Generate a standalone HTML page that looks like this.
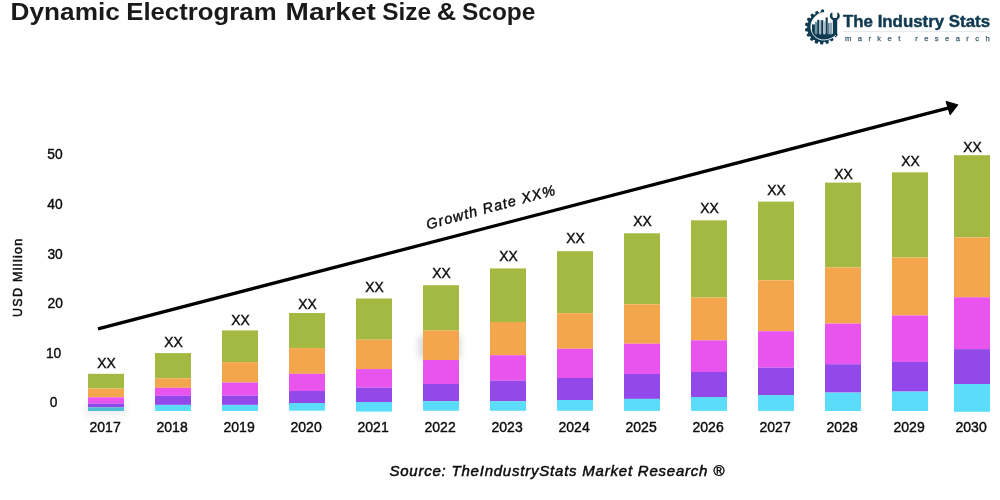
<!DOCTYPE html>
<html><head><meta charset="utf-8">
<style>
html,body{margin:0;padding:0;background:#fff;}
body{width:1000px;height:500px;overflow:hidden;font-family:"Liberation Sans",sans-serif;}
svg{display:block;position:absolute;left:0;top:0;will-change:transform;}
text{font-family:"Liberation Sans",sans-serif;fill:#0c0c0c;}
.mid{text-anchor:middle;stroke:#0c0c0c;stroke-width:0.42px;}
.title{font-size:23px;font-weight:bold;fill:#1a1a1a;}
.src{font-size:15px;font-style:italic;letter-spacing:0.78px;stroke:#0c0c0c;stroke-width:0.5px;}
.gr{font-size:14.5px;font-style:italic;letter-spacing:1.08px;stroke:#0c0c0c;stroke-width:0.4px;}
.ax{font-size:12.5px;letter-spacing:1.3px;stroke:#111;stroke-width:0.5px;}
.logo1{font-size:16px;font-weight:bold;fill:#103a51;stroke:#103a51;stroke-width:0.45px;}
.logo2{font-size:7.6px;fill:#3f5e6f;stroke:#3f5e6f;stroke-width:0.25px;letter-spacing:6.42px;}
</style></head><body>
<svg width="1000" height="500" viewBox="0 0 1000 500">
<text x="10.6" y="20.3" class="title" textLength="109.2" lengthAdjust="spacingAndGlyphs">Dynamic</text>
<text x="126.2" y="20.3" class="title" textLength="150.4" lengthAdjust="spacingAndGlyphs">Electrogram</text>
<text x="285.6" y="20.3" class="title" textLength="90.2" lengthAdjust="spacingAndGlyphs">Market</text>
<text x="382.2" y="20.3" class="title" textLength="48.8" lengthAdjust="spacingAndGlyphs">Size</text>
<text x="436.8" y="20.3" class="title" textLength="19.4" lengthAdjust="spacingAndGlyphs">&amp;</text>
<text x="462.0" y="20.3" class="title" textLength="73.4" lengthAdjust="spacingAndGlyphs">Scope</text>
<defs><filter id="bl" x="-50%" y="-50%" width="200%" height="200%"><feGaussianBlur stdDeviation="3"/></filter></defs>
<rect x="418.5" y="336" width="42" height="22" fill="#000" opacity="0.15" filter="url(#bl)"/>
<rect x="85" y="402" width="42" height="14" fill="#000" opacity="0.06" filter="url(#bl)"/>
<path d="M-2.0,-14 L-1.35,-16.9 Q0,-17.4 1.35,-16.9 L2.0,-14 Z" fill="#0e3a52" transform="translate(822.0,27.4) rotate(1.0)"/>
<path d="M-2.0,-14 L-1.35,-16.9 Q0,-17.4 1.35,-16.9 L2.0,-14 Z" fill="#0e3a52" transform="translate(822.0,27.4) rotate(-19.0)"/>
<path d="M-2.0,-14 L-1.35,-16.9 Q0,-17.4 1.35,-16.9 L2.0,-14 Z" fill="#0e3a52" transform="translate(822.0,27.4) rotate(-39.0)"/>
<path d="M-2.0,-14 L-1.35,-16.9 Q0,-17.4 1.35,-16.9 L2.0,-14 Z" fill="#0e3a52" transform="translate(822.0,27.4) rotate(-59.0)"/>
<path d="M-2.0,-14 L-1.35,-16.9 Q0,-17.4 1.35,-16.9 L2.0,-14 Z" fill="#0e3a52" transform="translate(822.0,27.4) rotate(-79.0)"/>
<path d="M-2.0,-14 L-1.35,-16.9 Q0,-17.4 1.35,-16.9 L2.0,-14 Z" fill="#0e3a52" transform="translate(822.0,27.4) rotate(-99.0)"/>
<path d="M-2.0,-14 L-1.35,-16.9 Q0,-17.4 1.35,-16.9 L2.0,-14 Z" fill="#0e3a52" transform="translate(822.0,27.4) rotate(-119.0)"/>
<path d="M-2.0,-14 L-1.35,-16.9 Q0,-17.4 1.35,-16.9 L2.0,-14 Z" fill="#0e3a52" transform="translate(822.0,27.4) rotate(-139.0)"/>
<path d="M-2.0,-14 L-1.35,-16.9 Q0,-17.4 1.35,-16.9 L2.0,-14 Z" fill="#0e3a52" transform="translate(822.0,27.4) rotate(-159.0)"/>
<path d="M-2.0,-14 L-1.35,-16.9 Q0,-17.4 1.35,-16.9 L2.0,-14 Z" fill="#0e3a52" transform="translate(822.0,27.4) rotate(-179.0)"/>
<path d="M-2.0,-14 L-1.35,-16.9 Q0,-17.4 1.35,-16.9 L2.0,-14 Z" fill="#0e3a52" transform="translate(822.0,27.4) rotate(-199.0)"/>
<path d="M-2.0,-14 L-1.35,-16.9 Q0,-17.4 1.35,-16.9 L2.0,-14 Z" fill="#0e3a52" transform="translate(822.0,27.4) rotate(-219.0)"/>
<path d="M-2.0,-14 L-1.35,-16.9 Q0,-17.4 1.35,-16.9 L2.0,-14 Z" fill="#0e3a52" transform="translate(822.0,27.4) rotate(-239.0)"/>
<circle cx="822.0" cy="27.4" r="14.8" fill="#0e3a52"/>
<path d="M823.0,12.5 C817.0,13.4 810.6,19.2 810.9,27.4 C811.3,35.0 817.0,40.2 824.0,40.0 C829.2,39.8 833.6,37.6 836.2,34.8 L846,34.8 L846,4 L823.0,4 Z" fill="#fff"/>
<circle cx="822.7" cy="10.9" r="1.55" fill="#0e3a52"/>
<circle cx="836.2" cy="34.9" r="1.3" fill="#0e3a52"/>
<clipPath id="bowl"><path d="M823.0,12.5 C817.0,13.4 810.6,19.2 810.9,27.4 C811.3,35.0 817.0,40.2 824.0,40.0 C829.2,39.8 833.6,37.6 836.2,34.8 L836.2,20 L823.0,12.5 Z"/></clipPath>
<g clip-path="url(#bowl)">
<rect x="808" y="33.8" width="30" height="8" fill="#0e3a52"/>
<rect x="812.0" y="24.4" width="2.9" height="10.1" fill="#0e3a52"/>
<rect x="815.2" y="21.8" width="1.6" height="12.7" fill="#52768a"/>
<rect x="817.2" y="19.8" width="2.1" height="14.7" fill="#0e3a52"/>
<rect x="819.5" y="20.2" width="1.5" height="14.3" fill="#9db4c0"/>
<rect x="821.2" y="20.2" width="2.1" height="14.3" fill="#0e3a52"/>
<rect x="823.5" y="21.4" width="1.7" height="13.1" fill="#a9bdc8"/>
<rect x="825.6" y="17.4" width="2.1" height="17.1" fill="#0e3a52"/>
<rect x="827.9" y="23.0" width="1.7" height="11.5" fill="#5f8193"/>
<rect x="829.9" y="22.6" width="2.0" height="11.9" fill="#86a1b0"/>
</g>
<path d="M823.0,12.5 C817.0,13.4 810.6,19.2 810.9,27.4 C811.3,35.0 817.0,40.2 824.0,40.0 C829.2,39.8 833.6,37.6 836.2,34.8" fill="none" stroke="#e9eff2" stroke-width="0.9"/>
<rect x="832.8" y="18" width="4.4" height="16.9" fill="#0e3a52"/>
<path d="M830.9,13.0 A4.8,4.8 0 1 0 838.7,13.0 L837.3,12.4 L837.3,16.0 A2.45,2.45 0 0 1 832.4,16.0 L832.4,12.4 Z" fill="#0e3a52"/>
<text x="843" y="26.5" class="logo1" textLength="147" lengthAdjust="spacingAndGlyphs">The Industry Stats</text>
<rect x="843" y="31.1" width="147" height="1" fill="#e3e8ea"/>
<text x="845" y="41" class="logo2">market research</text>
<rect x="88" y="373.8" width="36" height="14.7" fill="#a4b942"/>
<rect x="88" y="388.5" width="36" height="8.8" fill="#f4a64c"/>
<rect x="88" y="397.3" width="36" height="6.2" fill="#e854ed"/>
<rect x="88" y="403.5" width="36" height="3.8" fill="#9349ea"/>
<rect x="88" y="407.3" width="36" height="3.7" fill="#4dbdd4"/>
<text transform="translate(106.4,367.5) scale(0.925,1)" class="mid" font-size="15" >XX</text>
<text transform="translate(105.1,432.2) scale(0.935,1)" class="mid" font-size="15" >2017</text>
<rect x="155" y="353.1" width="36" height="25.2" fill="#a4b942"/>
<rect x="155" y="378.3" width="36" height="9.5" fill="#f4a64c"/>
<rect x="155" y="387.8" width="36" height="8.0" fill="#e854ed"/>
<rect x="155" y="395.8" width="36" height="9.1" fill="#9349ea"/>
<rect x="155" y="404.9" width="36" height="6.1" fill="#5bdcfb"/>
<text transform="translate(173.4,346.5) scale(0.925,1)" class="mid" font-size="15" >XX</text>
<text transform="translate(172.1,432.2) scale(0.935,1)" class="mid" font-size="15" >2018</text>
<rect x="222" y="330.4" width="36" height="31.7" fill="#a4b942"/>
<rect x="222" y="362.1" width="36" height="20.4" fill="#f4a64c"/>
<rect x="222" y="382.5" width="36" height="13.2" fill="#e854ed"/>
<rect x="222" y="395.7" width="36" height="9.2" fill="#9349ea"/>
<rect x="222" y="404.9" width="36" height="6.1" fill="#5bdcfb"/>
<text transform="translate(240.4,324.9) scale(0.925,1)" class="mid" font-size="15" >XX</text>
<text transform="translate(239.1,432.2) scale(0.935,1)" class="mid" font-size="15" >2019</text>
<rect x="289" y="313.0" width="36" height="35.1" fill="#a4b942"/>
<rect x="289" y="348.1" width="36" height="25.7" fill="#f4a64c"/>
<rect x="289" y="373.8" width="36" height="17.2" fill="#e854ed"/>
<rect x="289" y="391.0" width="36" height="12.0" fill="#9349ea"/>
<rect x="289" y="403.0" width="36" height="7.7" fill="#5bdcfb"/>
<text transform="translate(307.4,308.59999999999997) scale(0.925,1)" class="mid" font-size="15" >XX</text>
<text transform="translate(306.1,432.2) scale(0.935,1)" class="mid" font-size="15" >2020</text>
<rect x="356" y="298.5" width="36" height="41.2" fill="#a4b942"/>
<rect x="356" y="339.7" width="36" height="29.4" fill="#f4a64c"/>
<rect x="356" y="369.1" width="36" height="18.6" fill="#e854ed"/>
<rect x="356" y="387.7" width="36" height="14.3" fill="#9349ea"/>
<rect x="356" y="402.0" width="36" height="9.6" fill="#5bdcfb"/>
<text transform="translate(374.4,292.4) scale(0.925,1)" class="mid" font-size="15" >XX</text>
<text transform="translate(373.1,432.2) scale(0.935,1)" class="mid" font-size="15" >2021</text>
<rect x="423" y="285.2" width="36" height="45.2" fill="#a4b942"/>
<rect x="423" y="330.4" width="36" height="29.6" fill="#f4a64c"/>
<rect x="423" y="360.0" width="36" height="24.0" fill="#e854ed"/>
<rect x="423" y="384.0" width="36" height="17.1" fill="#9349ea"/>
<rect x="423" y="401.1" width="36" height="9.7" fill="#5bdcfb"/>
<text transform="translate(441.4,278.4) scale(0.925,1)" class="mid" font-size="15" >XX</text>
<text transform="translate(440.1,432.2) scale(0.935,1)" class="mid" font-size="15" >2022</text>
<rect x="490" y="268.4" width="36" height="53.6" fill="#a4b942"/>
<rect x="490" y="322.0" width="36" height="33.2" fill="#f4a64c"/>
<rect x="490" y="355.2" width="36" height="25.6" fill="#e854ed"/>
<rect x="490" y="380.8" width="36" height="20.4" fill="#9349ea"/>
<rect x="490" y="401.2" width="36" height="9.6" fill="#5bdcfb"/>
<text transform="translate(508.4,260.8) scale(0.925,1)" class="mid" font-size="15" >XX</text>
<text transform="translate(507.1,432.2) scale(0.935,1)" class="mid" font-size="15" >2023</text>
<rect x="557" y="251.2" width="36" height="62.0" fill="#a4b942"/>
<rect x="557" y="313.2" width="36" height="35.6" fill="#f4a64c"/>
<rect x="557" y="348.8" width="36" height="29.2" fill="#e854ed"/>
<rect x="557" y="378.0" width="36" height="22.0" fill="#9349ea"/>
<rect x="557" y="400.0" width="36" height="10.8" fill="#5bdcfb"/>
<text transform="translate(575.4,243.2) scale(0.925,1)" class="mid" font-size="15" >XX</text>
<text transform="translate(574.1,432.2) scale(0.935,1)" class="mid" font-size="15" >2024</text>
<rect x="624" y="233.3" width="36" height="71.0" fill="#a4b942"/>
<rect x="624" y="304.3" width="36" height="39.4" fill="#f4a64c"/>
<rect x="624" y="343.7" width="36" height="30.3" fill="#e854ed"/>
<rect x="624" y="374.0" width="36" height="24.9" fill="#9349ea"/>
<rect x="624" y="398.9" width="36" height="12.0" fill="#5bdcfb"/>
<text transform="translate(642.4,226.2) scale(0.925,1)" class="mid" font-size="15" >XX</text>
<text transform="translate(641.1,432.2) scale(0.935,1)" class="mid" font-size="15" >2025</text>
<rect x="691" y="220.3" width="36" height="77.3" fill="#a4b942"/>
<rect x="691" y="297.6" width="36" height="42.7" fill="#f4a64c"/>
<rect x="691" y="340.3" width="36" height="31.7" fill="#e854ed"/>
<rect x="691" y="372.0" width="36" height="25.0" fill="#9349ea"/>
<rect x="691" y="397.0" width="36" height="13.9" fill="#5bdcfb"/>
<text transform="translate(709.4,212.79999999999998) scale(0.925,1)" class="mid" font-size="15" >XX</text>
<text transform="translate(708.1,432.2) scale(0.935,1)" class="mid" font-size="15" >2026</text>
<rect x="758" y="201.6" width="36" height="78.7" fill="#a4b942"/>
<rect x="758" y="280.3" width="36" height="50.9" fill="#f4a64c"/>
<rect x="758" y="331.2" width="36" height="36.5" fill="#e854ed"/>
<rect x="758" y="367.7" width="36" height="27.4" fill="#9349ea"/>
<rect x="758" y="395.1" width="36" height="15.8" fill="#5bdcfb"/>
<text transform="translate(776.4,194.6) scale(0.925,1)" class="mid" font-size="15" >XX</text>
<text transform="translate(775.1,432.2) scale(0.935,1)" class="mid" font-size="15" >2027</text>
<rect x="825" y="182.6" width="36" height="84.8" fill="#a4b942"/>
<rect x="825" y="267.4" width="36" height="56.2" fill="#f4a64c"/>
<rect x="825" y="323.6" width="36" height="40.6" fill="#e854ed"/>
<rect x="825" y="364.2" width="36" height="28.4" fill="#9349ea"/>
<rect x="825" y="392.6" width="36" height="18.4" fill="#5bdcfb"/>
<text transform="translate(843.4,178.7) scale(0.925,1)" class="mid" font-size="15" >XX</text>
<text transform="translate(842.1,432.2) scale(0.935,1)" class="mid" font-size="15" >2028</text>
<rect x="892" y="172.3" width="36" height="85.2" fill="#a4b942"/>
<rect x="892" y="257.5" width="36" height="58.0" fill="#f4a64c"/>
<rect x="892" y="315.5" width="36" height="46.4" fill="#e854ed"/>
<rect x="892" y="361.9" width="36" height="29.7" fill="#9349ea"/>
<rect x="892" y="391.6" width="36" height="19.4" fill="#5bdcfb"/>
<text transform="translate(910.4,166.2) scale(0.925,1)" class="mid" font-size="15" >XX</text>
<text transform="translate(909.1,432.2) scale(0.935,1)" class="mid" font-size="15" >2029</text>
<rect x="954" y="155.2" width="36" height="82.2" fill="#a4b942"/>
<rect x="954" y="237.4" width="36" height="59.9" fill="#f4a64c"/>
<rect x="954" y="297.3" width="36" height="51.8" fill="#e854ed"/>
<rect x="954" y="349.1" width="36" height="34.9" fill="#9349ea"/>
<rect x="954" y="384.0" width="36" height="27.8" fill="#5bdcfb"/>
<text transform="translate(972.4,151.6) scale(0.925,1)" class="mid" font-size="15" >XX</text>
<text transform="translate(971.1,432.2) scale(0.935,1)" class="mid" font-size="15" >2030</text>
<text transform="translate(55.0,158.7) scale(0.92,1)" class="mid" font-size="15" >50</text>
<text transform="translate(55.0,208.5) scale(0.92,1)" class="mid" font-size="15" >40</text>
<text transform="translate(55.1,258.5) scale(0.92,1)" class="mid" font-size="15" >30</text>
<text transform="translate(55.2,308.4) scale(0.92,1)" class="mid" font-size="15" >20</text>
<text transform="translate(53.6,357.8) scale(0.92,1)" class="mid" font-size="15" >10</text>
<text transform="translate(53.5,407.1) scale(0.92,1)" class="mid" font-size="15" >0</text>
<line x1="98" y1="328.8" x2="948" y2="108.2" stroke="#000" stroke-width="3.3"/>
<path d="M957.5 104.9 L946.4 101.7 L950.2 114.3 Z" fill="#000" stroke="#000" stroke-width="1.4" stroke-linejoin="round"/>
<text transform="translate(427.8,229.4) rotate(-15.2)" class="gr">Growth Rate XX%</text>
<text transform="translate(22,317) rotate(-90)" class="ax">USD Million</text>
<text x="389.4" y="476.0" class="src">Source: TheIndustryStats Market Research ®</text>
</svg>
</body></html>
